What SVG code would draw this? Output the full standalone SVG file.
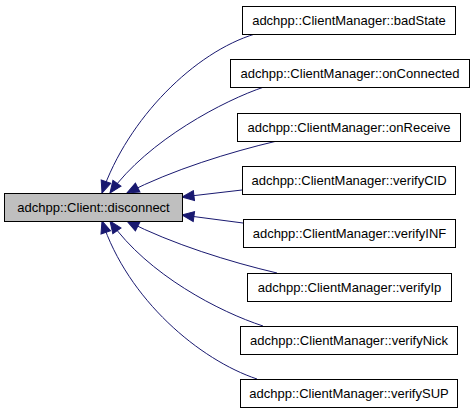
<svg xmlns="http://www.w3.org/2000/svg" width="475" height="413" viewBox="0 0 475 413">
<defs>
<style>
.node rect{fill:#ffffff;stroke:#000000;stroke-width:1}
.node.main rect{fill:#bfbfbf}
.node text{font-family:"Liberation Sans",Arial,sans-serif;font-size:13px;fill:#000000;text-anchor:middle}
.edges path{fill:none;stroke:#191970;stroke-width:1}
</style>
<marker id="arr" markerUnits="userSpaceOnUse" markerWidth="14" markerHeight="12" viewBox="0 0 14 12" refX="13" refY="6" orient="auto">
<path d="M1,1 L13,6 L1,11 z" fill="#191970" stroke="#191970"/>
</marker>
</defs>
<rect width="475" height="413" fill="#ffffff"/>
<g id="edges" class="edges">
<path d="M255,34 C195,52 128,118 102,193" marker-end="url(#arr)"/>
<path d="M264,87 C225,100 148,140 110,193" marker-end="url(#arr)"/>
<path d="M277,141 C230,152 172,170 127,193" marker-end="url(#arr)"/>
<path d="M242,190 L182,197" marker-end="url(#arr)"/>
<path d="M243,223 L182,215" marker-end="url(#arr)"/>
<path d="M277,273 C230,262 172,244 127,221" marker-end="url(#arr)"/>
<path d="M263,326 C220,312 148,275 110,221" marker-end="url(#arr)"/>
<path d="M257,379 C200,360 128,300 102,221" marker-end="url(#arr)"/>
</g>
<g id="node-main" class="node main">
<rect x="4.5" y="193.5" width="178" height="28"/>
<text x="93.5" y="212">adchpp::Client::disconnect</text>
</g>
<g id="node-badState" class="node">
<rect x="242.5" y="6.5" width="213" height="28"/>
<text x="349" y="25">adchpp::ClientManager::badState</text>
</g>
<g id="node-onConnected" class="node">
<rect x="230.5" y="59.5" width="239" height="28"/>
<text x="350" y="78">adchpp::ClientManager::onConnected</text>
</g>
<g id="node-onReceive" class="node">
<rect x="237.5" y="113.5" width="223" height="28"/>
<text x="349" y="132">adchpp::ClientManager::onReceive</text>
</g>
<g id="node-verifyCID" class="node">
<rect x="242.5" y="166.5" width="213" height="28"/>
<text x="349" y="185">adchpp::ClientManager::verifyCID</text>
</g>
<g id="node-verifyINF" class="node">
<rect x="243.5" y="219.5" width="212" height="28"/>
<text x="349.5" y="238">adchpp::ClientManager::verifyINF</text>
</g>
<g id="node-verifyIp" class="node">
<rect x="247.5" y="273.5" width="204" height="28"/>
<text x="349.5" y="292">adchpp::ClientManager::verifyIp</text>
</g>
<g id="node-verifyNick" class="node">
<rect x="240.5" y="326.5" width="217" height="28"/>
<text x="349" y="345">adchpp::ClientManager::verifyNick</text>
</g>
<g id="node-verifySUP" class="node">
<rect x="240.5" y="379.5" width="217" height="28"/>
<text x="349" y="398">adchpp::ClientManager::verifySUP</text>
</g>
</svg>
